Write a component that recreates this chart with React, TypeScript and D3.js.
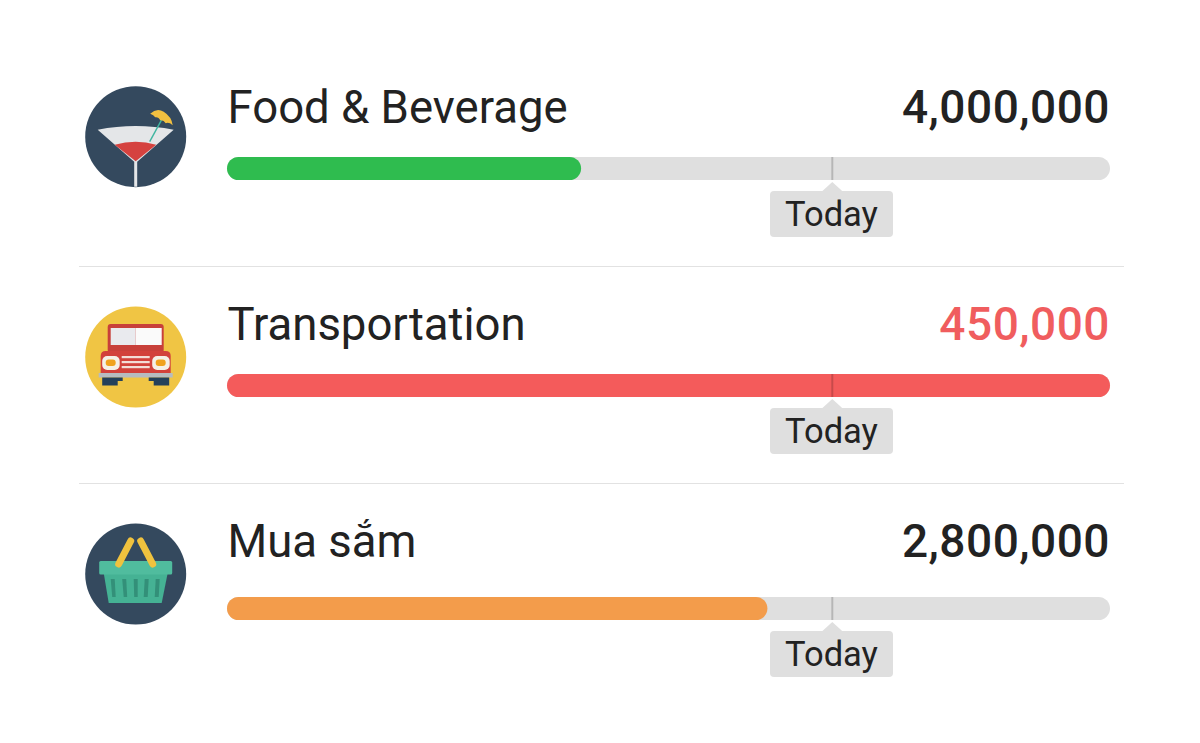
import React from "react";
import * as d3 from "d3";

const categories = ["Food & Beverage", "Transportation", "Mua sắm"];
const amounts = [4000000, 450000, 2800000];
const progress = [0.401, 1, 0.612];
const barColors = ["#2fbc4f", "#f45b5b", "#f39c4b"];
const amountColors = ["#222222", "#f05d5e", "#222222"];
const todayShare = 0.6855;
const todayLabel = "Today";
const iconKinds = ["drink", "truck", "basket"];
const iconColors = ["#34495e", "#f0c544", "#34495e"];
const barTops = [157, 374, 597];
const titleBaselines = [123, 340, 557];
const iconCentres = [136.7, 357, 574];
const dividers = [266.5, 483.5];

const FONT = "Roboto, sans-serif";
const x = d3.scaleLinear().domain([0, 1]).range([227, 1110]);
const fmt = d3.format(",");
const BAR_H = 23;

function Drink() {
  return (
    <g>
      <path d="M-38,-7 Q0,-14.5 38,-7 L1.5,25 L1.5,50 L-1.5,50 L-1.5,25 Z" fill="#e4e6e8" />
      <path d="M-21,8 Q0,2 20.5,8 L0,24.5 Z" fill="#d5423f" />
      <line x1={14} y1={5} x2={26} y2={-17} stroke="#3fb5a0" strokeWidth={1.4} />
      <path d="M14.5,-23 Q21,-29 28,-25 Q36,-20 37,-11.5 Q33,-15 30,-13.5 Q28,-17 24.5,-16.5 Q23,-20 19.5,-19.5 Q18,-22 14.5,-23 Z" fill="#f2c040" />
    </g>
  );
}

function Truck() {
  return (
    <g>
      <rect x={-28} y={-33} width={56} height={29} rx={3} fill="#c8403a" />
      <rect x={-25} y={-29} width={25} height={17} fill="#e9eaee" />
      <rect x={0} y={-29} width={26} height={17} fill="#fafafa" />
      <path d="M-35,-1 Q-35,-6 -30,-6 L30,-6 Q35,-6 35,-1 L35,16 L-35,16 Z" fill="#d2413b" />
      <rect x={-33.5} y={-1} width={17.5} height={14} rx={5} fill="#f5f0e6" />
      <rect x={-30} y={2.5} width={10} height={6.5} rx={3} fill="#f0a21e" />
      <rect x={16.5} y={-1} width={17.5} height={14} rx={5} fill="#f5f0e6" />
      <rect x={20} y={2.5} width={10} height={6.5} rx={3} fill="#f0a21e" />
      {[0, 5, 10].map((dy) => (
        <rect key={dy} x={-14} y={dy - 1} width={28} height={2.2} fill="#f3dcd6" />
      ))}
      <rect x={-37} y={16} width={74} height={4.5} fill="#b6bcc0" />
      <path d="M-33.5,20.5 L-13,20.5 L-13,24 L-18,24 L-18,28.5 L-33.5,28.5 Z" fill="#24405a" />
      <path d="M33.5,20.5 L13,20.5 L13,24 L18,24 L18,28.5 L33.5,28.5 Z" fill="#24405a" />
    </g>
  );
}

function Basket() {
  return (
    <g>
      <path d="M-32,-1 L32,-1 L26,29 L-27,29 Z" fill="#45b294" />
      <rect x={-36.5} y={-13} width={73} height={13.5} rx={1.5} fill="#50bc9e" />
      {[-25, -13.5, -2, 9, 20].map((sx, i) => (
        <path key={i} d={`M${sx},5 L${sx + 4},5 L${sx + (i < 2 ? 5 : i === 2 ? 4 : 3)},23 L${sx + (i < 2 ? 1.5 : i === 2 ? 0.5 : -1)},23 Z`} fill="#339079" />
      ))}
      <line x1={-17} y1={-10} x2={-5} y2={-33} stroke="#f0c23e" strokeWidth={7} strokeLinecap="round" />
      <line x1={17} y1={-10} x2={5} y2={-33} stroke="#f0c23e" strokeWidth={7} strokeLinecap="round" />
    </g>
  );
}

const icons: Record<string, () => React.ReactElement> = { drink: Drink, truck: Truck, basket: Basket };

export default function App() {
  const clipR = BAR_H / 2;
  return (
    <svg width={1200} height={743} style={{ position: "absolute", left: 0, top: 0, background: "#fff", fontFamily: FONT }}>
      {categories.map((name, i) => {
        const top = barTops[i];
        const Icon = icons[iconKinds[i]];
        const tx = x(todayShare);
        const tipTop = top + 34;
        return (
          <g key={name}>
            <g transform={`translate(135.7,${iconCentres[i]})`}>
              <circle r={50.5} fill={iconColors[i]} />
              <Icon />
            </g>
            <text x={227.5} y={titleBaselines[i]} fontSize={45.5} fill="#222">{name}</text>
            <text x={1110} y={titleBaselines[i]} fontSize={46} fontWeight={500} letterSpacing={0.5} textAnchor="end" fill={amountColors[i]}>{fmt(amounts[i])}</text>
            <rect x={x(0)} y={top} width={x(1) - x(0)} height={BAR_H} rx={clipR} fill="#dfdfdf" />
            <rect x={x(0)} y={top} width={x(progress[i]) - x(0)} height={BAR_H} rx={clipR} fill={barColors[i]} />
            <rect x={tx - 1} y={top} width={2} height={BAR_H} fill="#000" opacity={0.18} />
            <path d={`M${tx - 11},${tipTop + 1} L${tx},${top + BAR_H + 2} L${tx + 11},${tipTop + 1} Z`} fill="#dfdfdf" />
            <rect x={770} y={tipTop} width={123} height={46} rx={4} fill="#dfdfdf" />
            <text x={831.5} y={tipTop + 35} fontSize={34.5} textAnchor="middle" fill="#222">{todayLabel}</text>
          </g>
        );
      })}
      {dividers.map((y) => (
        <line key={y} x1={79} x2={1124} y1={y} y2={y} stroke="#e2e2e2" strokeWidth={1} />
      ))}
    </svg>
  );
}
